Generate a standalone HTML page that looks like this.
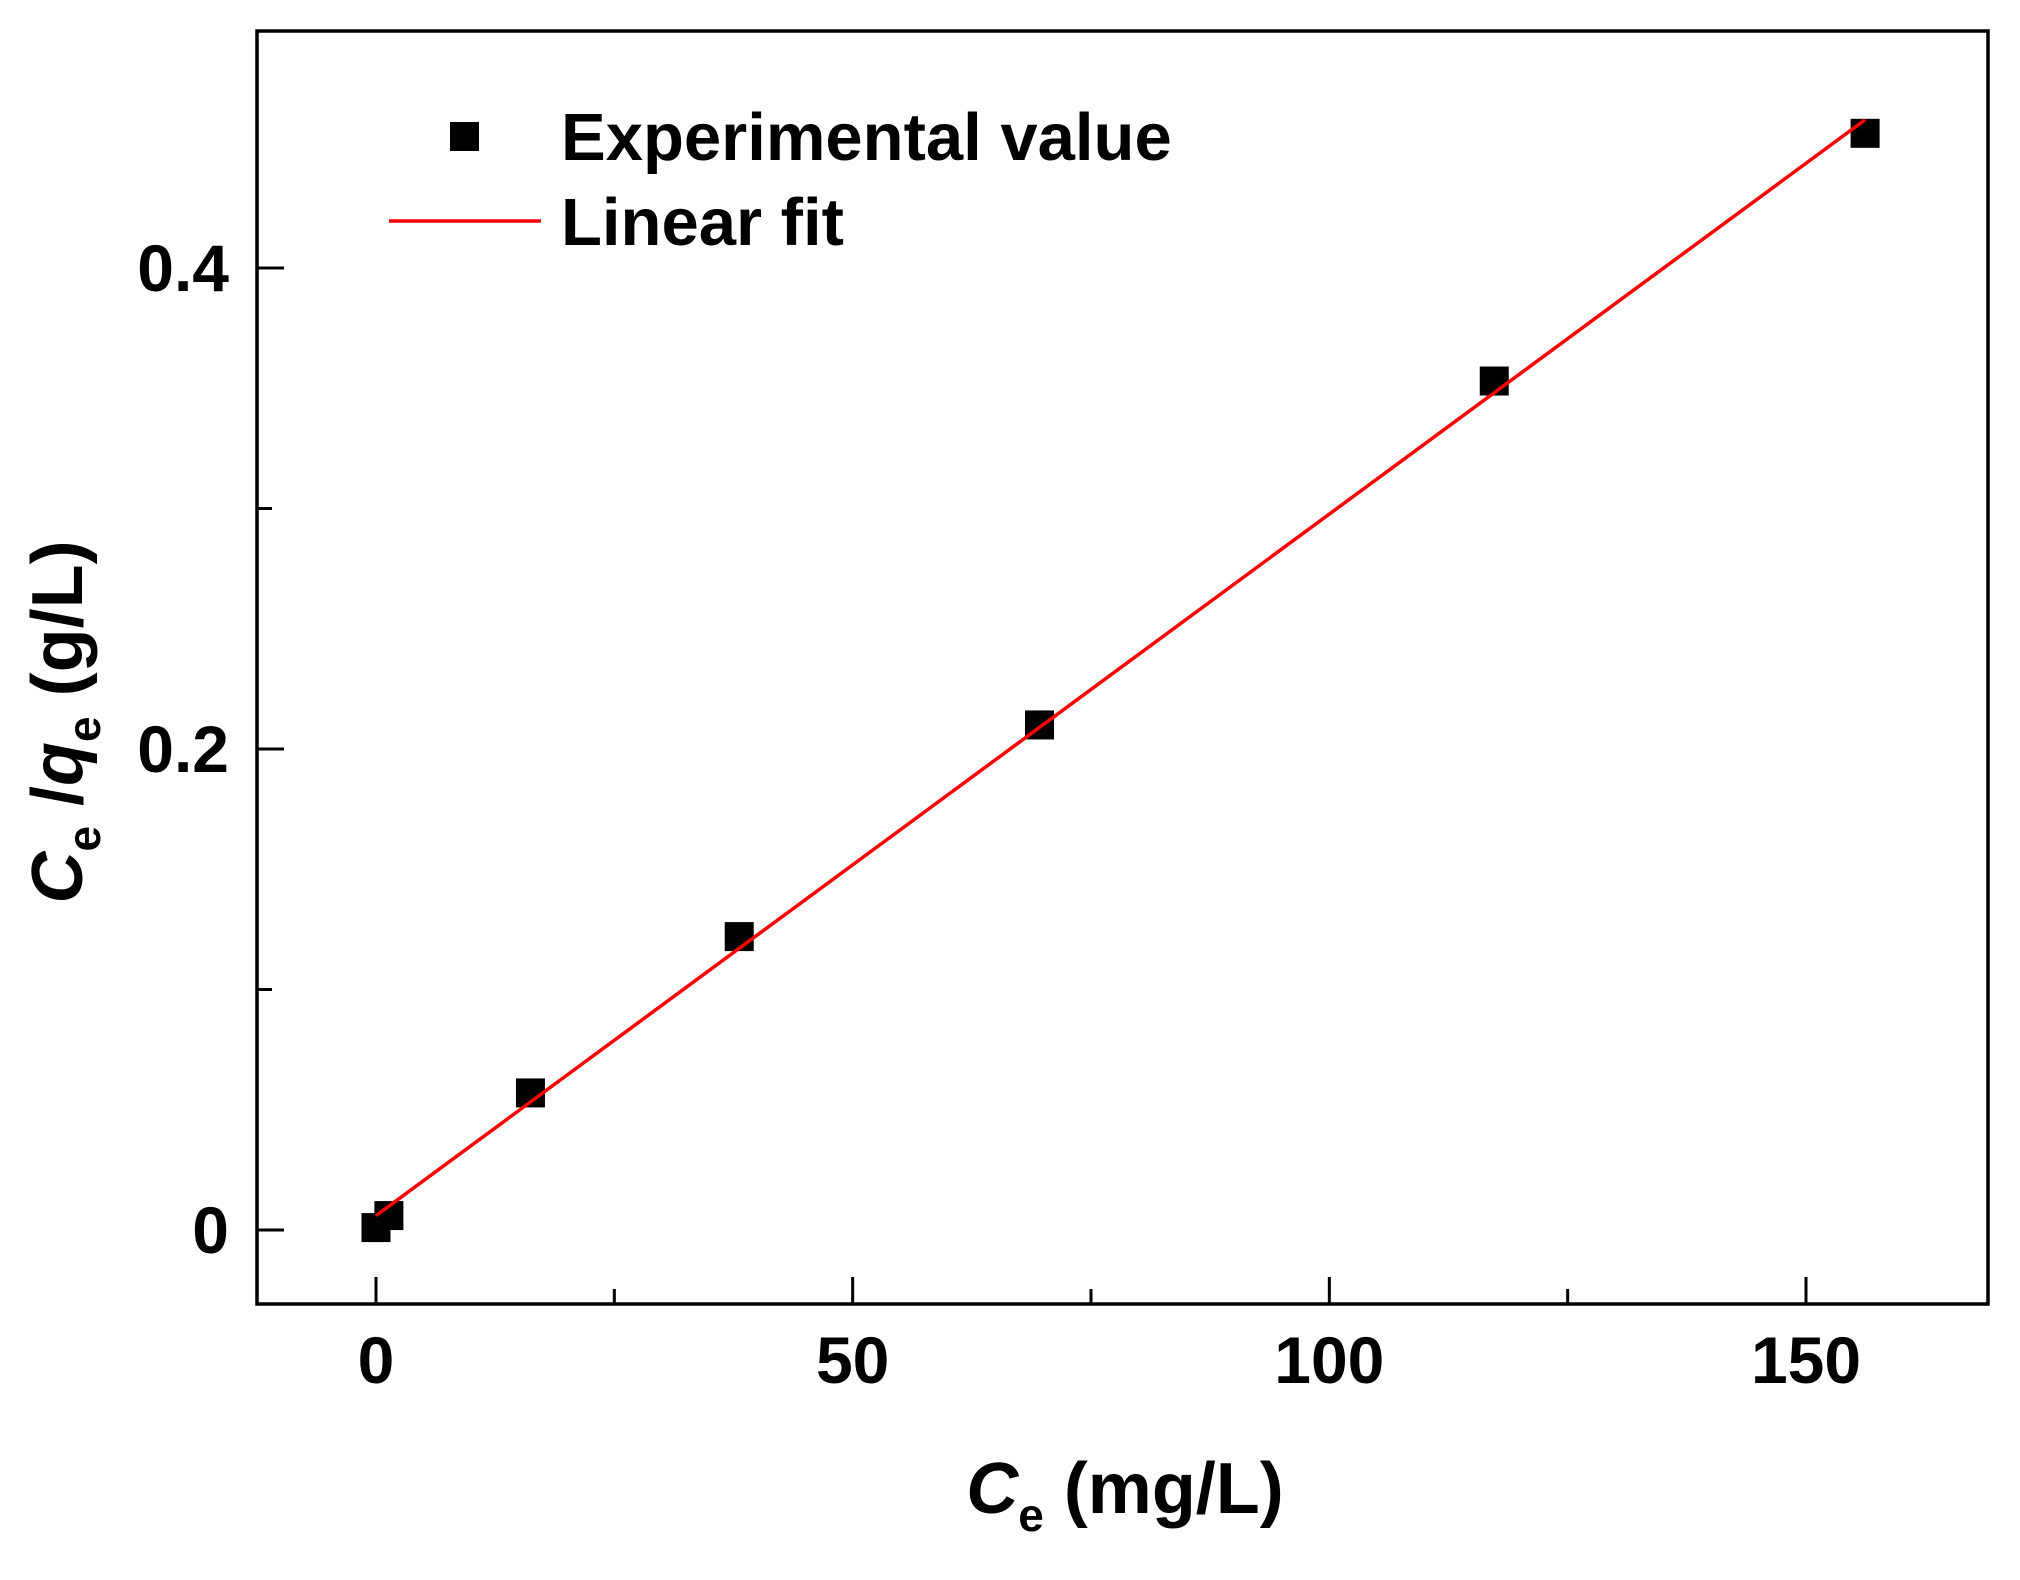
<!DOCTYPE html>
<html><head><meta charset="utf-8"><style>
html,body{margin:0;padding:0;background:#fff;}
svg{display:block;font-family:"Liberation Sans",Arial,sans-serif;font-weight:bold;}
</style></head><body>
<svg id="chart" width="2020" height="1580" viewBox="0 0 2020 1580" xmlns="http://www.w3.org/2000/svg">
<rect x="0" y="0" width="2020" height="1580" fill="#fff"/>
<g id="plot"></g>
<rect x="257" y="31" width="1731" height="1273" fill="none" stroke="#000" stroke-width="3.5"/>
<g>
  <rect x="450" y="122" width="29" height="29" fill="#000"/>
  <text x="561" y="160" font-size="67">Experimental value</text>
  <line x1="389" y1="221" x2="541" y2="221" stroke="#f00" stroke-width="3.5"/>
  <text x="561" y="245" font-size="67">Linear fit</text>
</g>
<text x="1125" y="1513" font-size="72" text-anchor="middle"><tspan font-style="italic">C</tspan><tspan font-size="46" dy="18">e</tspan><tspan dy="-18"> (mg/L)</tspan></text>
<text transform="translate(82,722) rotate(-90)" font-size="72" text-anchor="middle"><tspan font-style="italic">C</tspan><tspan font-size="46" dy="18">e</tspan><tspan dy="-18"> /</tspan><tspan font-style="italic">q</tspan><tspan font-size="46" dy="18">e</tspan><tspan dy="-18"> (g/L)</tspan></text>
</svg>
<script>
const xVals = [0, 1.35, 16.2, 38.1, 69.6, 117.3, 156.2];
const yVals = [0.001, 0.006, 0.057, 0.122, 0.210, 0.353, 0.456];
const xTicks = [0, 50, 100, 150];
const xTickLabels = ["0", "50", "100", "150"];
const xMinorTicks = [25, 75, 125];
const yTicks = [0, 0.2, 0.4];
const yTickLabels = ["0", "0.2", "0.4"];
const yMinorTicks = [0.1, 0.3];

const NS = "http://www.w3.org/2000/svg";
const X0 = 376, XPX = (1806 - 376) / 150;
const Y0 = 1230, YPX = (1230 - 268) / 0.4;
function sx(v){ return X0 + v * XPX; }
function sy(v){ return Y0 - v * YPX; }
const plot = document.getElementById('plot');
function mk(tag, attrs){ const e = document.createElementNS(NS, tag); for (const k in attrs) e.setAttribute(k, attrs[k]); plot.appendChild(e); return e; }

xTicks.forEach((t, i) => {
  const l = mk('line', {x1: sx(t), x2: sx(t), y1: 1304, y2: 1277, stroke: '#000', 'stroke-width': 3});
  
  
  const tx = mk('text', {x: sx(t), y: 1383, 'font-size': 66, 'text-anchor': 'middle'});
  tx.textContent = xTickLabels[i];
  
  
});
xMinorTicks.forEach(t => {
  const l = mk('line', {x1: sx(t), x2: sx(t), y1: 1304, y2: 1289, stroke: '#000', 'stroke-width': 3});
  
  
});
yTicks.forEach((t, i) => {
  const l = mk('line', {x1: 257, x2: 284, y1: sy(t), y2: sy(t), stroke: '#000', 'stroke-width': 3});
  
  
  const tx = mk('text', {x: 229, y: sy(t) + 23, 'font-size': 66, 'text-anchor': 'end'});
  tx.textContent = yTickLabels[i];
  
  
});
yMinorTicks.forEach(t => {
  const l = mk('line', {x1: 257, x2: 272, y1: sy(t), y2: sy(t), stroke: '#000', 'stroke-width': 3});
  
  
});

xVals.forEach((x, i) => {
  const r = mk('rect', {x: sx(x) - 14.5, y: sy(yVals[i]) - 14.5, width: 29, height: 29, fill: '#000'});
  
  
});

const n = xVals.length;
const mx = xVals.reduce((a,b)=>a+b,0)/n, my = yVals.reduce((a,b)=>a+b,0)/n;
let sxy = 0, sxx = 0;
for (let i = 0; i < n; i++){ sxy += (xVals[i]-mx)*(yVals[i]-my); sxx += (xVals[i]-mx)**2; }
const slope = sxy/sxx, icpt = my - slope*mx;
const xa = Math.min(...xVals), xb = Math.max(...xVals);
const fit = mk('line', {x1: sx(xa), y1: sy(icpt + slope*xa), x2: sx(xb), y2: sy(icpt + slope*xb), stroke: '#f00', 'stroke-width': 3.5});


</script>
</body></html>
